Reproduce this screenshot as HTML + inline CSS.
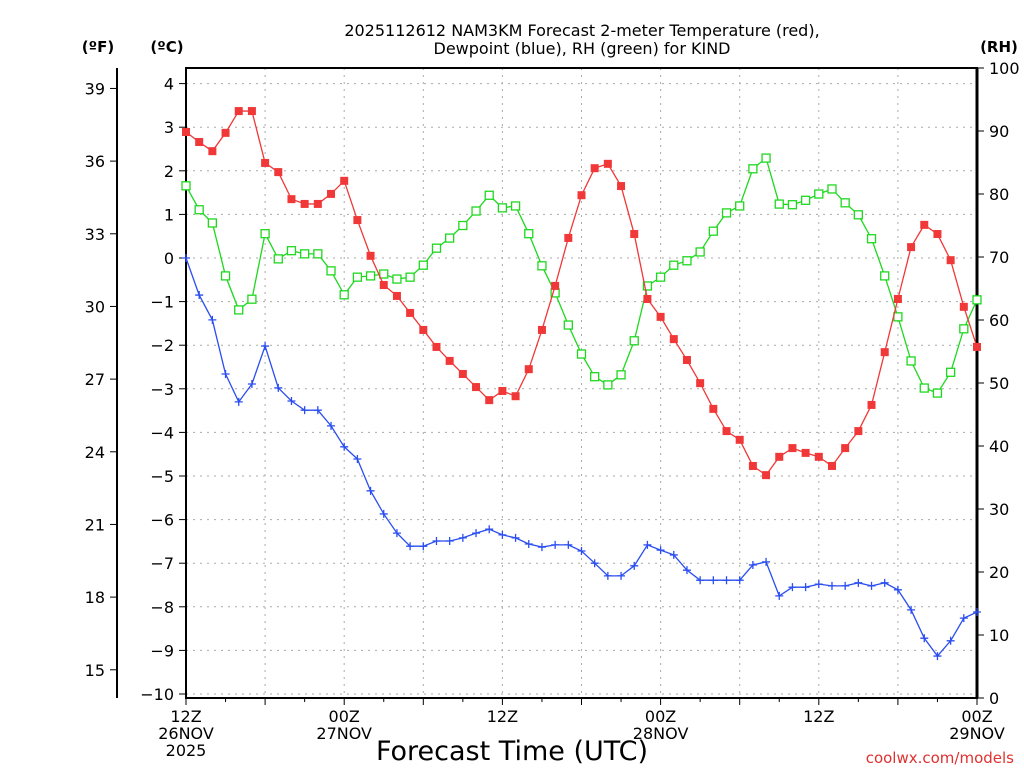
<!DOCTYPE html>
<html><head><meta charset="utf-8"><style>
body{margin:0;background:#fff;}
svg{display:block;font-family:"DejaVu Sans","Liberation Sans",sans-serif;}
</style></head><body>
<svg id="chart" width="1024" height="768" viewBox="0 0 1024 768">
<g font-size="16" text-anchor="middle" fill="#000">
<text x="582" y="36">2025112612 NAM3KM Forecast 2-meter Temperature (red),</text>
<text x="582" y="54">Dewpoint (blue), RH (green) for KIND</text>
</g>
<text x="98" y="52" font-size="15" font-weight="bold" text-anchor="middle">(ºF)</text>
<text x="167" y="52" font-size="15" font-weight="bold" text-anchor="middle">(ºC)</text>
<text x="999" y="52" font-size="15" font-weight="bold" text-anchor="middle">(RH)</text>
<g id="grid"></g>
<g id="axes"></g>
<g id="series"></g>
<text x="512" y="760" font-size="27" text-anchor="middle">Forecast Time (UTC)</text>
<text x="1014" y="763" font-size="15" fill="#e03030" text-anchor="end">coolwx.com/models</text>
</svg>
<script>
const tempC=[2.89,2.66,2.45,2.87,3.37,3.37,2.18,1.97,1.35,1.24,1.24,1.47,1.77,0.87,0.05,-0.62,-0.87,-1.26,-1.65,-2.04,-2.36,-2.66,-2.96,-3.26,-3.05,-3.17,-2.55,-1.65,-0.64,0.46,1.44,2.06,2.16,1.65,0.55,-0.94,-1.35,-1.86,-2.34,-2.87,-3.46,-3.97,-4.17,-4.77,-4.98,-4.56,-4.36,-4.47,-4.56,-4.77,-4.36,-3.97,-3.37,-2.16,-0.94,0.25,0.76,0.55,-0.05,-1.12,-2.04];
const dewC=[0,-0.85,-1.42,-2.66,-3.30,-2.89,-2.02,-2.98,-3.28,-3.49,-3.49,-3.85,-4.33,-4.61,-5.34,-5.87,-6.31,-6.61,-6.61,-6.49,-6.49,-6.42,-6.31,-6.22,-6.35,-6.42,-6.56,-6.63,-6.58,-6.58,-6.72,-7.0,-7.29,-7.29,-7.06,-6.58,-6.70,-6.81,-7.16,-7.39,-7.39,-7.39,-7.39,-7.04,-6.97,-7.75,-7.55,-7.55,-7.48,-7.52,-7.52,-7.45,-7.52,-7.45,-7.61,-8.07,-8.72,-9.13,-8.78,-8.26,-8.12];
const rh=[81.3,77.5,75.4,67,61.6,63.3,73.7,69.7,71,70.5,70.5,67.8,64,66.8,67,67.3,66.5,66.8,68.7,71.4,73,75,77.3,79.8,77.8,78.1,73.7,68.6,64.3,59.2,54.6,51,49.7,51.3,56.7,65.4,66.8,68.7,69.4,70.8,74.1,77,78.1,84,85.7,78.4,78.3,79,80,80.8,78.6,76.7,72.9,67,60.5,53.5,49.2,48.4,51.7,58.6,63.2];
const cTicks=[4,3,2,1,0,-1,-2,-3,-4,-5,-6,-7,-8,-9,-10];
const fTicks=[39,36,33,30,27,24,21,18,15];
const rhTicks=[100,90,80,70,60,50,40,30,20,10,0];
const xTickHours=[0,12,24,36,48,60];
const xTickLabels=[["12Z","26NOV","2025"],["00Z","27NOV"],["12Z"],["00Z","28NOV"],["12Z"],["00Z","29NOV"]];
const NS="http://www.w3.org/2000/svg";
const L=186,R=977,T=68,B=698;
const xs=h=>L+(R-L)*h/60;
const yc=c=>258-43.6*c;
const yr=v=>B-(B-T)*v/100;
function mk(tag,attrs,parent,txt){const e=document.createElementNS(NS,tag);for(const k in attrs)e.setAttribute(k,attrs[k]);if(txt!==undefined)e.textContent=txt;parent.appendChild(e);return e;}
const grid=document.getElementById('grid'),axes=document.getElementById('axes'),ser=document.getElementById('series');
cTicks.forEach(c=>{const y=yc(c);
 const g=mk('line',{x1:L,x2:R,y1:y,y2:y,stroke:'#aaa','stroke-dasharray':'2,5'},grid);
 
 
 mk('line',{x1:L-7,x2:L,y1:y,y2:y,stroke:'#000'},axes);
 const t=mk('text',{x:L-12,y:y+6,'font-size':16,'text-anchor':'end'},axes,c<0?'−'+(-c):String(c));
 
 
});
fTicks.forEach(f=>{const y=yc((f-32)/1.8);
 mk('line',{x1:110,x2:117,y1:y,y2:y,stroke:'#000'},axes);
 const t=mk('text',{x:105,y:y+6,'font-size':16,'text-anchor':'end'},axes,String(f));
 
 
});
rhTicks.forEach(v=>{const y=yr(v);
 mk('line',{x1:R,x2:R+7,y1:y,y2:y,stroke:'#000'},axes);
 const t=mk('text',{x:R+12,y:y+6,'font-size':16},axes,String(v));
 
 
});
for(let h=6;h<60;h+=6){const x=xs(h);
 const g=mk('line',{x1:x,x2:x,y1:T,y2:B,stroke:'#aaa','stroke-dasharray':'2,5'},grid);
 
 }
for(let h=0;h<=60;h+=3){mk('line',{x1:xs(h),x2:xs(h),y1:B,y2:B+(h%6?4:7),stroke:'#000'},axes);}
xTickHours.forEach((h,i)=>{xTickLabels[i].forEach((s,j)=>{
 const t=mk('text',{x:xs(h),y:722+j*17,'font-size':16,'text-anchor':'middle'},axes,s);
 
 });});
mk('rect',{x:L,y:T,width:R-L,height:B-T,fill:'none',stroke:'#000','stroke-width':2},axes);
mk('line',{x1:R,x2:R,y1:T,y2:B,stroke:'#000','stroke-width':3},axes);
mk('line',{x1:117,x2:117,y1:T,y2:B,stroke:'#000','stroke-width':2},axes);
function series(arr,yf,color,name,marker){
 const g=mk('g',{},ser);
 
 
 mk('polyline',{points:arr.map((v,i)=>xs(i)+','+yf(v)).join(' '),fill:'none',stroke:color,'stroke-width':1.3},g);
 arr.forEach((v,i)=>{const x=xs(i),y=yf(v);
  if(marker==='fill')mk('rect',{x:x-4,y:y-4,width:8,height:8,fill:color},g);
  else if(marker==='open')mk('rect',{x:x-4,y:y-4,width:8,height:8,fill:'#fff',stroke:color,'stroke-width':1.3},g);
  else mk('path',{d:`M${x-4},${y}H${x+4}M${x},${y-4}V${y+4}`,stroke:color,'stroke-width':1.3},g);});
}
series(rh,yr,'#1ed81e','rh-series','open');
series(tempC,yc,'#f03838','temperature-series','fill');
series(dewC,yc,'#2a4ef0','dewpoint-series','plus');
</script>
</body></html>
